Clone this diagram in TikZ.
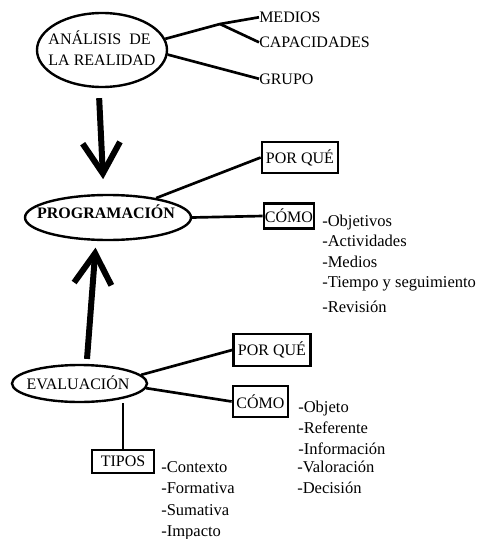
\documentclass[tikz,border=0pt]{standalone}
\usepackage{fontspec}
\setmainfont{Liberation Serif}
\usetikzlibrary{arrows.meta,shapes.geometric}

\begin{document}
\begin{tikzpicture}[
  x=0.75pt, y=-0.75pt,
  font=\fontsize{12}{15.75}\selectfont,
  ell/.style={draw, ellipse, line width=1.8pt, inner sep=0pt},
  bx/.style={draw, line width=2pt, inner sep=0pt},
  itm/.style={anchor=base west, inner sep=0pt, font=\fontsize{12.4}{15}\selectfont},
  lnk/.style={line width=2pt},
  big/.style={line width=4.5pt, -{Straight Barb[length=23pt, width=28pt]}}]
\useasboundingbox (0,0) rectangle (482,539);
% ellipses
\node[ell, minimum width=97.5pt, minimum height=55.5pt] (ana) at (102,50) {};
\node[align=left, inner sep=0pt] (anat) at (102,48) {ANÁLISIS\ \ DE\\LA REALIDAD};
\node[ell, minimum width=124.5pt, minimum height=33.75pt] (prog) at (108,217.5) {};
\node[inner sep=0pt, font=\fontsize{12}{14}\selectfont\bfseries] (progt) at (106,211.5) {PROGRAMACIÓN};
\node[ell, minimum width=101.25pt, minimum height=27.75pt] (eval) at (79.5,383.5) {};
\node[inner sep=0pt] (evalt) at (78,383) {EVALUACIÓN};
% right of analisis
\node[itm, font=\fontsize{12}{14}\selectfont] (med) at (259,22.5) {MEDIOS};
\node[itm, font=\fontsize{12}{14}\selectfont] (cap) at (259,47.5) {CAPACIDADES};
\node[itm, font=\fontsize{12}{14}\selectfont] (gru) at (259,84) {GRUPO};
\coordinate (j) at (220,24);
\draw[lnk] (ana.10) -- (j) -- (med.west);
\draw[lnk] (j) -- (cap.west);
\draw[lnk] (ana.-4) -- (gru.west);
% boxes
\node[bx, minimum width=57pt, minimum height=23.25pt] (pq1) at (300,157.5) {POR QUÉ};
\node[bx, minimum width=37.5pt, minimum height=18.75pt] (com1) at (289,216) {CÓMO};
\node[bx, minimum width=57.75pt, minimum height=24pt] (pq2) at (272,350) {POR QUÉ};
\node[bx, minimum width=41.25pt, minimum height=23.25pt] (com2) at (260.5,401.5) {CÓMO};
\node[bx, minimum width=46.5pt, minimum height=17.25pt] (tip) at (123,461.5) {TIPOS};
\draw[lnk] (prog.22) -- (pq1.west);
\draw[lnk] (prog.east) -- (com1.west);
\draw[lnk] (eval.8) -- (pq2.west);
\draw[lnk] (eval.-4) -- (com2.west);
\draw[lnk] (tip.north) -- (tip.north |- eval.south);
% big arrows
\draw[big, shorten <=7.5pt, shorten >=11pt] (ana.265) -- (prog.100);
\draw[big, shorten <=3.75pt, shorten >=5pt] (eval.70) -- (prog.243);
% lists
\node[itm] (p1) at (322,226) {-Objetivos};
\node[itm] (p2) at (322,246) {-Actividades};
\node[itm] (p3) at (322,267) {-Medios};
\node[itm] (p4) at (322,287) {-Tiempo y seguimiento};
\node[itm] (p5) at (322,312) {-Revisión};
\node[itm] (e1) at (298,412) {-Objeto};
\node[itm] (e2) at (298,433) {-Referente};
\node[itm] (e3) at (298,454) {-Información};
\node[itm] (e4) at (297,472) {-Valoración};
\node[itm] (e5) at (297,493) {-Decisión};
\node[itm] (t1) at (161,472) {-Contexto};
\node[itm] (t2) at (161,493) {-Formativa};
\node[itm] (t3) at (161,515) {-Sumativa};
\node[itm] (t4) at (161,536) {-Impacto};
\end{tikzpicture}
\end{document}
